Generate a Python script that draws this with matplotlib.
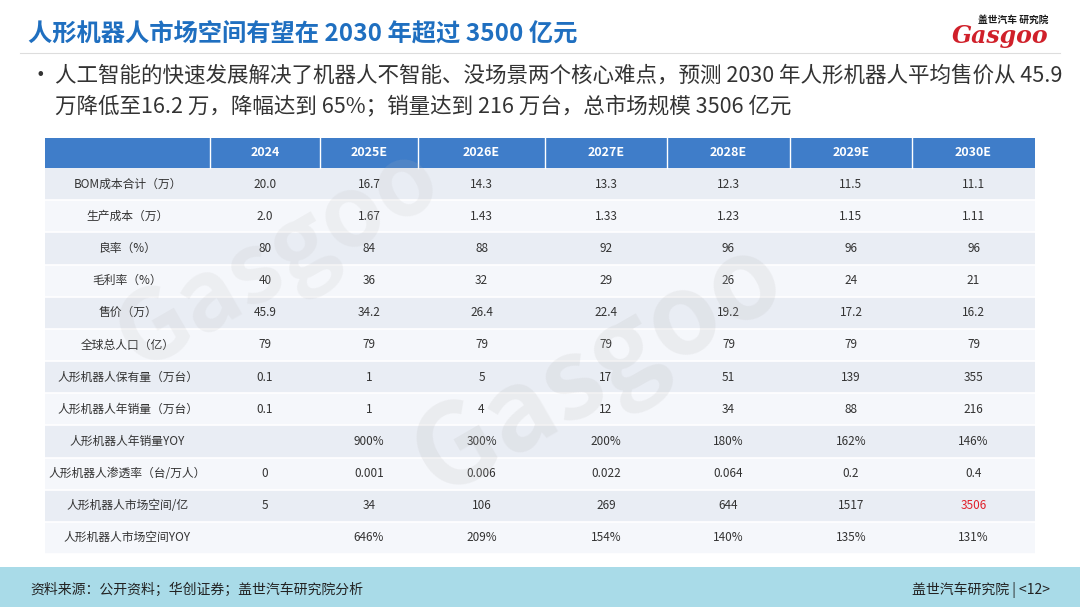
import matplotlib
matplotlib.use("Agg")
import matplotlib.pyplot as plt
from matplotlib.patches import Rectangle

plt.rcParams['font.family'] = ['Noto Sans CJK SC', 'DejaVu Sans']

years = ["2024", "2025E", "2026E", "2027E", "2028E", "2029E", "2030E"]
row_labels = ["BOM成本合计（万）", "生产成本（万）", "良率（%）", "毛利率（%）", "售价（万）",
              "全球总人口（亿）", "人形机器人保有量（万台）", "人形机器人年销量（万台）",
              "人形机器人年销量YOY", "人形机器人渗透率（台/万人）", "人形机器人市场空间/亿",
              "人形机器人市场空间YOY"]
bom = ["20.0", "16.7", "14.3", "13.3", "12.3", "11.5", "11.1"]
prod_cost = ["2.0", "1.67", "1.43", "1.33", "1.23", "1.15", "1.11"]
yield_rate = ["80", "84", "88", "92", "96", "96", "96"]
margin = ["40", "36", "32", "29", "26", "24", "21"]
price = ["45.9", "34.2", "26.4", "22.4", "19.2", "17.2", "16.2"]
population = ["79", "79", "79", "79", "79", "79", "79"]
stock = ["0.1", "1", "5", "17", "51", "139", "355"]
sales = ["0.1", "1", "4", "12", "34", "88", "216"]
sales_yoy = ["", "900%", "300%", "200%", "180%", "162%", "146%"]
penetration = ["0", "0.001", "0.006", "0.022", "0.064", "0.2", "0.4"]
market = ["5", "34", "106", "269", "644", "1517", "3506"]
market_yoy = ["", "646%", "209%", "154%", "140%", "135%", "131%"]
rows = [bom, prod_cost, yield_rate, margin, price, population, stock, sales,
        sales_yoy, penetration, market, market_yoy]

W, H = 1080, 607
fig = plt.figure(figsize=(10.8, 6.07), dpi=100)
fig.patch.set_facecolor("white")

def X(px): return px / W
def Y(py): return 1 - py / H

def rect(x0, y0, x1, y1, color):
    fig.patches.append(Rectangle((X(x0), Y(y1)), X(x1) - X(x0), Y(y0) - Y(y1),
                                 transform=fig.transFigure, facecolor=color, edgecolor="none"))

# title
fig.text(X(28), Y(35), "人形机器人市场空间有望在 2030 年超过 3500 亿元", color="#1f6fc0",
         fontsize=17.5, fontweight="bold", va="center")
fig.text(X(1048), Y(20), "盖世汽车 研究院", color="#1a1a1a", fontsize=7, ha="right", va="center", fontweight="bold")
fig.text(X(1048), Y(36), "Gasgoo", color="#d0202a", fontsize=17, ha="right", va="center",
         fontweight="bold", style="italic", family="DejaVu Serif")
fig.lines.append(plt.Line2D([X(20), X(1060)], [Y(53), Y(53)], transform=fig.transFigure,
                            color="#dddddd", lw=0.8))

# bullet
fig.text(X(30), Y(76), "•", fontsize=15.5, va="center", color="#333333")
fig.text(X(55), Y(76), "人工智能的快速发展解决了机器人不智能、没场景两个核心难点，预测 2030 年人形机器人平均售价从 45.9",
         fontsize=15.5, va="center", color="#333333")
fig.text(X(55), Y(107), "万降低至16.2 万，降幅达到 65%；销量达到 216 万台，总市场规模 3506 亿元",
         fontsize=15.5, va="center", color="#333333")

# table
edges = [45, 210, 320, 418, 545, 667, 790, 912, 1035]
top, hdr_bot = 138, 168
rh = (554 - hdr_bot) / len(rows)
rect(edges[0], top, edges[-1], hdr_bot, "#3f7dc9")
for j in range(1, len(edges) - 1):
    fig.lines.append(plt.Line2D([X(edges[j])] * 2, [Y(top), Y(hdr_bot)], transform=fig.transFigure,
                                color="white", lw=1))
for j, yr in enumerate(years):
    fig.text(X((edges[j + 1] + edges[j + 2]) / 2), Y((top + hdr_bot) / 2), yr, color="white",
             fontsize=9, ha="center", va="center", fontweight="bold")
for i, (lab, vals) in enumerate(zip(row_labels, rows)):
    y0 = hdr_bot + i * rh
    rect(edges[0], y0, edges[-1], y0 + rh, "#e9edf4" if i % 2 == 0 else "#f5f7fb")
    fig.lines.append(plt.Line2D([X(edges[0]), X(edges[-1])], [Y(y0 + rh)] * 2,
                                transform=fig.transFigure, color="white", lw=1.2))
    fig.text(X((edges[0] + edges[1]) / 2), Y(y0 + rh / 2), lab, fontsize=8.5, ha="center",
             va="center", color="#333333")
    for j, v in enumerate(vals):
        c = "#e0202a" if (lab == "人形机器人市场空间/亿" and j == 6) else "#333333"
        fig.text(X((edges[j + 1] + edges[j + 2]) / 2), Y(y0 + rh / 2), v, fontsize=8.5,
                 ha="center", va="center", color=c)

# faint watermark
fig.text(X(600), Y(370), "Gasgoo", fontsize=80, color="#bbbbbb", alpha=0.18, rotation=30,
         ha="center", va="center", fontweight="bold")
fig.text(X(280), Y(260), "Gasgoo", fontsize=70, color="#bbbbbb", alpha=0.15, rotation=30,
         ha="center", va="center", fontweight="bold")

# footer
rect(0, 567, W, H, "#a9dbe8")
fig.text(X(30), Y(590), "资料来源：公开资料；华创证券；盖世汽车研究院分析", fontsize=10, va="center", color="#222222")
fig.text(X(1050), Y(590), "盖世汽车研究院 | <12>", fontsize=10, va="center", ha="right", color="#222222")

fig.savefig("out.png", dpi=100)
